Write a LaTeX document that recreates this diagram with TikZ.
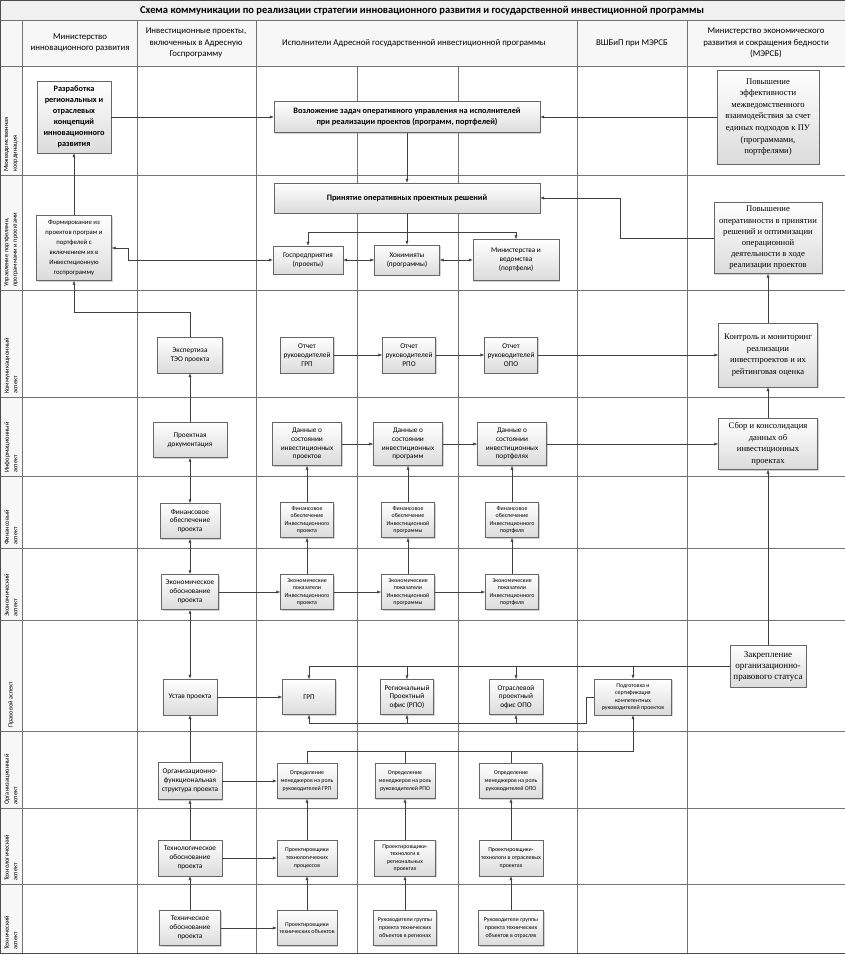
\documentclass[tikz,border=0pt]{standalone}
\usepackage{fontspec}
\setmainfont{Carlito}
\newfontfamily\timesfont{Liberation Serif}
\usetikzlibrary{arrows.meta,shadows}

\begin{document}
\begin{tikzpicture}[
  x=1pt, y=-1pt,
  gridline/.style={draw=black!55, line width=0.4pt},
  box/.style={draw=black!60, top color=white, bottom color=gray!28, drop shadow={shadow xshift=1.2pt, shadow yshift=-1.2pt, opacity=0.35}, align=center, inner sep=1pt, font=\fontsize{7.3}{8.8}\selectfont},
  boldbox/.style={box, font=\bfseries\fontsize{8.3}{11}\selectfont},
  smallbox/.style={box, font=\fontsize{5.9}{7.6}\selectfont},
  serifbox/.style={box, font=\timesfont\fontsize{8.6}{11.6}\selectfont},
  rowlabel/.style={rotate=90, anchor=west, align=left, inner sep=0pt, font=\fontsize{6.4}{8.6}\selectfont},
  colhead/.style={align=center, font=\fontsize{8.8}{11.5}\selectfont},
  arrow/.style={-{Latex[length=4pt,width=3.2pt]}, draw=black!75, line width=0.5pt},
  dblarrow/.style={{Latex[length=4pt,width=3.2pt]}-{Latex[length=4pt,width=3.2pt]}, draw=black!75, line width=0.9pt},
  link/.style={draw=black!75, line width=0.5pt}
]
\useasboundingbox (0,0) rectangle (845,955);

% grid
\fill[gray!12] (0,0) rectangle (845,20);
\fill[gray!6] (0,20) rectangle (845,66);
\fill[gray!6] (0,66) rectangle (22,953);
\foreach \yy in {20,66,175,290,397,476,548,731,808,884}
  \draw[gridline] (0,\yy) -- (845,\yy);
\draw[gridline, line width=0.9pt] (0,620) -- (845,620);
\foreach \xx in {22,137,256,687}
  \draw[gridline] (\xx,20) -- (\xx,953);
\draw[gridline, line width=0.9pt] (577,20) -- (577,953);
\foreach \xx in {357,458}
  \draw[gridline] (\xx,66) -- (\xx,953);
\draw[black!70, line width=0.9pt] (0,0) rectangle (845,953);

% titles
\node[font=\bfseries\fontsize{10.5}{12}\selectfont] (title) at (422,11) {Схема коммуникации по реализации стратегии инновационного развития и государственной инвестиционной  программы};
\node[colhead] (headInno) at (80,43) {Министерство\\инновационного развития};
\node[colhead] (headProj) at (196,43) {Инвестиционные проекты,\\включенных в Адресную\\Госпрограмму};
\node[colhead] (headExec) at (414,43) {Исполнители Адресной государственной  инвестиционной программы};
\node[colhead] (headSchool) at (632,43) {ВШБиП при МЭРСБ};
\node[colhead] (headEcon) at (766,43) {Министерство экономического\\развития и сокращения бедности\\(МЭРСБ)};

% row labels
\foreach \yb/\txt [count=\i] in {172/{Межведомственная\\координация},
  287/{Управление портфелями,\\программами и проектами},
  394/{Коммуникационный\\аспект},
  473/{Информационный\\аспект},
  545/{Финансовый\\аспект},
  617/{Экономический\\аспект},
  728/{Правовой аспект},
  805/{Организационный\\аспект},
  881/{Технологический\\аспект},
  950/{Технический\\аспект}}
  \node[rowlabel] (row\i) at (11,\yb) {\txt};

% interagency coordination
\node[boldbox, minimum width=74pt, minimum height=72pt] (devel) at (74,117) {Разработка\\региональных и\\отраслевых\\концепций\\инновационного\\развития};
\node[boldbox, minimum width=266pt, minimum height=31pt] (assign) at (407,117) {Возложение задач оперативного управления на исполнителей\\при реализации проектов (программ, портфелей)};
\node[serifbox, minimum width=102pt, minimum height=94pt] (effic) at (768,117) {Повышение\\эффективности\\межведомственного\\взаимодействия за счет\\единых подходов к ПУ\\(программами,\\портфелями)};

% portfolio management
\node[boldbox, minimum width=266pt, minimum height=30pt] (decide) at (407,198) {Принятие оперативных проектных решений};
\node[box, font=\fontsize{6.7}{10}\selectfont, minimum width=75pt, minimum height=65pt] (form) at (74,248) {Формирование из\\проектов програм и\\портфелей с\\включением их в\\Инвестиционную\\госпрограмму};
\node[box, minimum width=70pt, minimum height=28pt] (gosp) at (308,260) {Госпредприятия\\(проекты)};
\node[box, minimum width=65pt, minimum height=30pt] (hokim) at (407,260) {Хокимияты\\(программы)};
\node[box, minimum width=86pt, minimum height=41pt] (minist) at (516,260) {Министерства и\\ведомства\\(портфели)};
\node[serifbox, font=\timesfont\fontsize{8.6}{11.2}\selectfont, minimum width=108pt, minimum height=71pt] (operat) at (768,238) {Повышение\\оперативности в принятии\\решений и оптимизации\\операционной\\деятельности в ходе\\реализации проектов};
\coordinate (decideBus) at (407,232);
\coordinate (formBend) at (128,248);
\coordinate (operBend) at (620,238);

% communication
\node[box, minimum width=65pt, minimum height=36pt] (expert) at (190,355) {Экспертиза\\ТЭО  проекта};
\node[box, minimum width=53pt, minimum height=36pt] (repGRP) at (307,355) {Отчет\\руководителей\\ГРП};
\node[box, minimum width=53pt, minimum height=36pt] (repRPO) at (409,355) {Отчет\\руководителей\\РПО};
\node[box, minimum width=53pt, minimum height=36pt] (repOPO) at (511,355) {Отчет\\руководителей\\ОПО};
\node[serifbox, minimum width=99pt, minimum height=64pt] (control) at (768,355) {Контроль и мониторинг\\реализации\\инвестпроектов и их\\рейтинговая оценка};
\coordinate (expBend) at (190,312);

% information
\node[box, minimum width=74pt, minimum height=35pt] (docs) at (190,440) {Проектная\\документация};
\node[box, minimum width=69pt, minimum height=43pt] (dataProj) at (307,444) {Данные о\\состоянии\\инвестиционных\\проектов};
\node[box, minimum width=69pt, minimum height=43pt] (dataProg) at (408,444) {Данные о\\состоянии\\инвестиционных\\программ};
\node[box, minimum width=69pt, minimum height=43pt] (dataPort) at (512,444) {Данные о\\состоянии\\инвестиционных\\портфелях};
\node[serifbox, minimum width=99pt, minimum height=51pt] (collect) at (768,444) {Сбор и консолидация\\данных об\\инвестиционных\\проектах};

% finance
\node[box, minimum width=60pt, minimum height=35pt] (finMain) at (190,521) {Финансовое\\обеспечение\\проекта};
\node[smallbox, minimum width=53pt, minimum height=35pt] (finProj) at (307,520) {Финансовое\\обеспечение\\Инвестиционного\\проекта};
\node[smallbox, minimum width=53pt, minimum height=35pt] (finProg) at (408,520) {Финансовое\\обеспечение\\Инвестиционной\\программы};
\node[smallbox, minimum width=53pt, minimum height=35pt] (finPort) at (512,520) {Финансовое\\обеспечение\\Инвестиционного\\портфеля};

% economics
\node[box, minimum width=57pt, minimum height=35pt] (econMain) at (190,592) {Экономическое\\обоснование\\проекта};
\node[smallbox, minimum width=53pt, minimum height=35pt] (econProj) at (307,592) {Экономические\\показатели\\Инвестиционного\\проекта};
\node[smallbox, minimum width=53pt, minimum height=35pt] (econProg) at (408,592) {Экономические\\показатели\\Инвестиционной\\программы};
\node[smallbox, minimum width=53pt, minimum height=35pt] (econPort) at (512,592) {Экономические\\показатели\\Инвестиционного\\портфеля};

% legal
\node[box, minimum width=54pt, minimum height=36pt] (charter) at (190,697) {Устав проекта};
\node[box, minimum width=53pt, minimum height=35pt] (grp) at (309,697) {ГРП};
\node[box, minimum width=53pt, minimum height=35pt] (rpo) at (407,697) {Региональный\\Проектный\\офис (РПО)};
\node[box, minimum width=54pt, minimum height=35pt] (opo) at (516,697) {Отраслевой\\проектный\\офис ОПО};
\node[smallbox, minimum width=77pt, minimum height=36pt] (train) at (633,697) {Подготовка и\\сертификация\\компетентных\\руководителей проектов};
\node[serifbox, font=\timesfont\fontsize{9}{11}\selectfont, minimum width=76pt, minimum height=42pt] (status) at (768,666) {Закрепление\\организационно-\\правового статуса};
\coordinate (lowBus) at (309,723);
\coordinate (orgBus) at (633,751);

% organisation
\node[box, minimum width=64pt, minimum height=37pt] (orgStruct) at (190,781) {Организационно-\\функциональная\\структура проекта};
\node[smallbox, minimum width=60pt, minimum height=35pt] (mgrGRP) at (307,781) {Определение\\менеджеров на роль\\руководителей ГРП};
\node[smallbox, minimum width=60pt, minimum height=35pt] (mgrRPO) at (405,781) {Определение\\менеджеров на роль\\руководителей РПО};
\node[smallbox, minimum width=63pt, minimum height=35pt] (mgrOPO) at (511,781) {Определение\\менеджеров на роль\\руководителей ОПО};

% technology
\node[box, minimum width=64pt, minimum height=36pt] (techno) at (190,858) {Технологическое\\обоснование\\проекта};
\node[smallbox, minimum width=60pt, minimum height=36pt] (designProc) at (307,858) {Проектировщики\\технологических\\процессов};
\node[smallbox, minimum width=61pt, minimum height=36pt] (designReg) at (405,858) {Проектировщики-\\технологи в\\региональных\\проектах};
\node[smallbox, minimum width=64pt, minimum height=36pt] (designInd) at (511,858) {Проектировщики-\\технологи в отраслевых\\проектах};

% technical
\node[box, minimum width=61pt, minimum height=35pt] (techBase) at (190,928) {Техническое\\обоснование\\проекта};
\node[smallbox, minimum width=60pt, minimum height=35pt] (designObj) at (307,928) {Проектировщики\\технических объектов};
\node[smallbox, minimum width=63pt, minimum height=35pt] (leadReg) at (405,928) {Руководители группы\\проекта  технических\\объектов в регионах};
\node[smallbox, minimum width=65pt, minimum height=35pt] (leadInd) at (511,928) {Руководители группы\\проекта  технических\\объектов в отраслях};

% connectors
\draw[arrow] (devel) -- (assign);
\draw[arrow] (effic) -- (assign);
\draw[arrow] (assign) -- (decide);
\draw[arrow] (form) -- (devel);
\draw[arrow] (decide) -- (hokim);
\draw[arrow] (decideBus) -| (gosp);
\draw[arrow] (decideBus) -| (minist);
\draw[dblarrow, line width=0.5pt] (gosp) -- (hokim);
\draw[dblarrow, line width=0.5pt] (hokim) -- (minist);
\draw[dblarrow, line width=0.5pt] (form) -- (formBend) |- (gosp);
\draw[arrow] (operat) -- (operBend) |- (decide);
\draw[arrow] (expert) -- (expBend) -| (form);
\draw[arrow] (repGRP) -- (repRPO);
\draw[arrow] (repRPO) -- (repOPO);
\draw[arrow] (repOPO) -- (control);
\draw[arrow] (control) -- (operat);
\draw[arrow] (docs) -- (expert);
\draw[arrow] (dataProj) -- (dataProg);
\draw[arrow] (dataProg) -- (dataPort);
\draw[arrow] (dataPort) -- (collect);
\draw[arrow] (collect) -- (control);
\draw[arrow] (status) -- (collect);
\draw[dblarrow] (docs) -- (finMain);
\draw[dblarrow] (finMain) -- (econMain);
\draw[dblarrow] (econMain) -- (charter);
\foreach \src/\dst in {finProj/dataProj, finProg/dataProg, finPort/dataPort,
  econProj/finProj, econProg/finProg, econPort/finPort,
  econMain/econProj, econProj/econProg, econProg/econPort}
  \draw[arrow] (\src) -- (\dst);
\draw[arrow] (charter) -- (grp);
\draw[arrow] (status) -| (grp);
\foreach \dst in {rpo, opo, train}
  \draw[arrow] (\dst |- status) -- (\dst);
\draw[arrow] (train.west) -- ++(-8,0) |- (lowBus) -- (grp);
\foreach \dst in {rpo, opo}
  \draw[arrow] (\dst |- lowBus) -- (\dst);
\draw[arrow] (mgrGRP) |- (orgBus) -- (train);
\foreach \src in {mgrRPO, mgrOPO}
  \draw[link] (\src) -- (\src |- orgBus);
\draw[arrow] (orgStruct) -- (charter);
\draw[arrow] (orgStruct) -- (mgrGRP);
\foreach \src/\dst in {techno/orgStruct, techno/designProc, designProc/mgrGRP,
  designReg/mgrRPO, designInd/mgrOPO, techBase/techno, techBase/designObj,
  designObj/designProc, leadReg/designReg, leadInd/designInd}
  \draw[arrow] (\src) -- (\dst);
\end{tikzpicture}
\end{document}
